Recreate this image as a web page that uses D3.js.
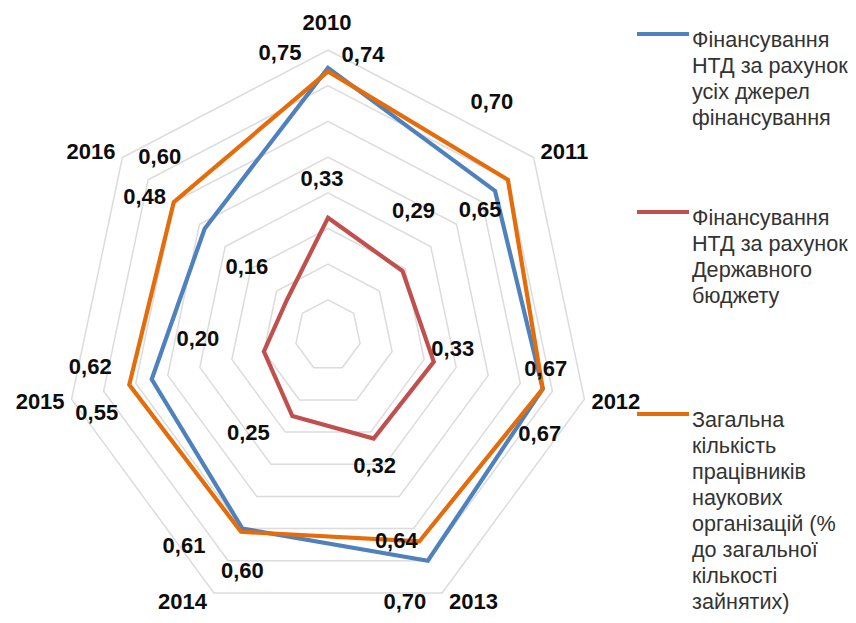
<!DOCTYPE html>
<html>
<head>
<meta charset="utf-8">
<script src="https://cdn.jsdelivr.net/npm/d3@7"></script>
<style>
  body { margin: 0; background: #fff; }
  svg { display: block; }
  .lbl { font-family: "Liberation Sans", Arial, sans-serif; font-weight: bold; font-size: 22px; fill: #0d0d0d; }
  .leg { font-family: "Liberation Sans", Arial, sans-serif; font-size: 21.6px; fill: #333; }
</style>
</head>
<body>
<div id="chart"></div>
<script>
// categories and series
const years = ["2010", "2011", "2012", "2013", "2014", "2015", "2016"];
const totalFunding = [0.75, 0.65, 0.67, 0.70, 0.60, 0.55, 0.48];
const budgetFunding = [0.33, 0.29, 0.33, 0.32, 0.25, 0.20, 0.16];
const staffShare = [0.74, 0.70, 0.67, 0.64, 0.61, 0.62, 0.60];
const radialMax = 0.8;

const legendLines = [
  ["Фінансування", "НТД за рахунок", "усіх джерел", "фінансування"],
  ["Фінансування", "НТД за рахунок", "Державного", "бюджету"],
  ["Загальна", "кількість", "працівників", "наукових", "організацій (%", "до загальної", "кількості", "зайнятих)"]
];

// layout
const width = 856, height = 623;
const cx = 328, cy = 335.6;
const colors = ["#4f81bd", "#c0504d", "#e46c0a"];
const series = [totalFunding, budgetFunding, staffShare];
const drawOrder = [0, 1, 2];

// data label offsets from their point (dx, dy), one list per series
const labelOffsets = [
  [[-48, -16], [-15, 18], [-3, 44], [-23, 41], [0, 42], [-55, 33], [-60, -32]],
  [[-6, -39], [11, -61], [19, -14], [1, 27], [-44, 16], [-66, -13], [-40, -34]],
  [[35, -17], [-16, -78], [3, -21], [-23, -1], [-57, 13], [-39, -19], [-14, -46]]
];
const legendTop = [47, 225, 427];
const lineGap = 26;

const rx = d3.scaleLinear().domain([0, radialMax]).range([0, 263]);
const ry = d3.scaleLinear().domain([0, radialMax]).range([0, 285.6]);
const angle = d3.scalePoint().domain(years).range([0, 2 * Math.PI * 6 / 7]);

const px = (yr, v) => cx + rx(v) * Math.sin(angle(yr));
const py = (yr, v) => cy - ry(v) * Math.cos(angle(yr));

const locale = d3.formatLocale({ decimal: ",", thousands: " ", grouping: [3], currency: ["", ""] });
const fmt = locale.format(".2f");

const svg = d3.select("#chart").append("svg")
  .attr("width", width)
  .attr("height", height);

// grid rings
const ticks = rx.ticks(8).filter(t => t > 0);
const ring = d3.line().curve(d3.curveLinearClosed);
svg.append("g")
  .selectAll("path")
  .data(ticks)
  .join("path")
  .attr("d", t => ring(years.map(yr => [px(yr, t), py(yr, t)])))
  .attr("fill", "none")
  .attr("stroke", "#dcdcdc")
  .attr("stroke-width", 1.5);

// series polygons
const poly = d3.line()
  .x(d => px(d.yr, d.v))
  .y(d => py(d.yr, d.v))
  .curve(d3.curveLinearClosed);

svg.append("g")
  .selectAll("path")
  .data(drawOrder)
  .join("path")
  .attr("d", i => poly(years.map((yr, j) => ({ yr, v: series[i][j] }))))
  .attr("fill", "none")
  .attr("stroke", i => colors[i])
  .attr("stroke-width", 4.2)
  .attr("stroke-linejoin", "miter");

// category labels
svg.append("g")
  .selectAll("text")
  .data(years)
  .join("text")
  .attr("class", "lbl")
  .attr("x", yr => {
    const s = Math.sin(angle(yr));
    return px(yr, radialMax) + (Math.abs(s) < 0.1 ? -1 : s > 0 ? 7 : -7);
  })
  .attr("y", yr => {
    const c = Math.cos(angle(yr));
    return c > 0.99 ? py(yr, radialMax) - 28 : py(yr, radialMax) - 9.5 * c;
  })
  .attr("dy", "0.35em")
  .attr("text-anchor", yr => {
    const s = Math.sin(angle(yr));
    return Math.abs(s) < 0.1 ? "middle" : s > 0 ? "start" : "end";
  })
  .text(yr => yr);

// data labels
const labelData = [];
series.forEach((vals, i) => {
  vals.forEach((v, j) => labelData.push({ yr: years[j], v, off: labelOffsets[i][j] }));
});
svg.append("g")
  .selectAll("text")
  .data(labelData)
  .join("text")
  .attr("class", "lbl")
  .attr("x", d => px(d.yr, d.v) + d.off[0])
  .attr("y", d => py(d.yr, d.v) + d.off[1])
  .attr("dy", "0.35em")
  .attr("text-anchor", "middle")
  .text(d => fmt(d.v));

// legend
const leg = svg.append("g");
legendLines.forEach((lines, i) => {
  const top = legendTop[i];
  leg.append("line")
    .attr("x1", 637).attr("x2", 689)
    .attr("y1", top - 13).attr("y2", top - 13)
    .attr("stroke", colors[i])
    .attr("stroke-width", 4);
  leg.append("g")
    .selectAll("text")
    .data(lines)
    .join("text")
    .attr("class", "leg")
    .attr("x", 692)
    .attr("y", (d, k) => top + k * lineGap)
    .text(d => d);
});
</script>
</body>
</html>
